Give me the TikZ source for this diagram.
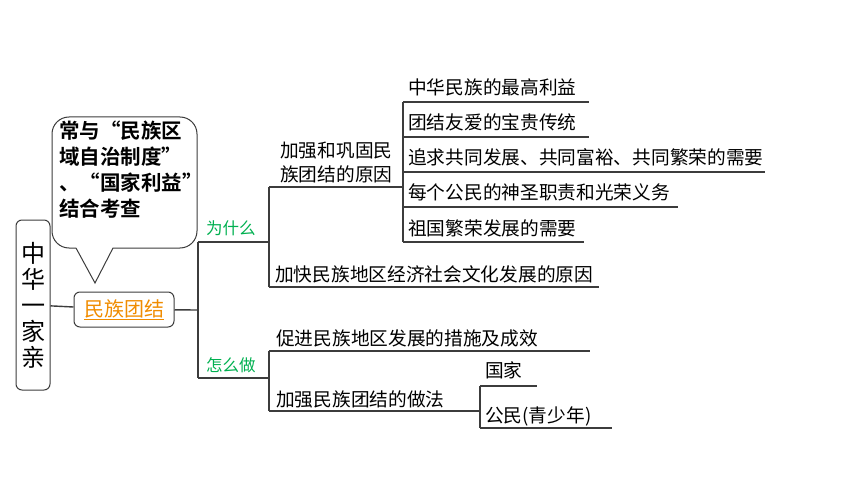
\documentclass[tikz,border=0pt]{standalone}
\usepackage{fontspec}
\setmainfont{Noto Sans CJK SC}[BoldFont=Noto Sans CJK SC Bold]
\newcommand{\quotebox}[2]{\makebox[1em][#1]{#2}}
\definecolor{mzOrange}{RGB}{240,140,0}
\definecolor{tagGreen}{RGB}{0,176,80}
\definecolor{lineGray}{RGB}{60,60,60}
\tikzset{
  leaf/.style={anchor=base west, inner sep=0pt, font=\fontsize{18.7}{24}\selectfont},
  tag/.style={anchor=west, inner sep=0pt, text=tagGreen, font=\fontsize{16.5}{20}\selectfont},
  branch/.style={draw=lineGray, line width=1.4pt}
}

\begin{document}
\begin{tikzpicture}[x=1pt,y=-1pt]
\useasboundingbox (0,0) rectangle (860,484);
%Заголовок и тема
\node[draw=lineGray, line width=1pt, rounded corners=6pt, minimum width=34pt, minimum height=170pt, inner sep=0pt, align=center, font=\fontsize{24}{26}\selectfont] (jia) at (33,305) {中\\华\\一\\家\\亲};
\node[draw=lineGray, line width=1pt, rounded corners=6pt, minimum width=100pt, minimum height=35pt, inner sep=0pt, text=mzOrange, font=\fontsize{20}{24}\selectfont] (mztj) at (124,309.5) {\underline{民族团结}};
\draw[branch] (jia) -- (mztj);
%Выноска
\draw[draw=lineGray, line width=1pt] (76,248) -- (95,283) -- (113,248) [rounded corners=17pt] -- (197,248) -- (197,117) -- (52,117) -- (52,248) -- (76,248);
\node[anchor=north west, inner sep=0pt, align=left, font=\fontsize{20.5}{26}\selectfont\bfseries] (bub) at (59,121) {常与\quotebox{r}{“}民族区\\域自治制度\quotebox{l}{”}\\、\quotebox{r}{“}国家利益\quotebox{l}{”}\\结合考查};
%Ветви
\coordinate (r0) at (198,310);
\coordinate (wA) at (198,242); \coordinate (wB) at (269,242);
\coordinate (hA) at (198,378); \coordinate (hB) at (269,378);
\draw[branch] (mztj) -- (r0);
\draw[branch] (wA) -- (hA) (wA) -- (wB) (hA) -- (hB);
\node[tag] (why) at (206,228) {为什么};
\node[tag] (how) at (206,365) {怎么做};
%为什么
\coordinate (y1) at (269,187); \coordinate (y1e) at (403,187);
\coordinate (y2) at (269,287); \coordinate (y2e) at (599,287);
\draw[branch] (y1) -- (y2) (y1) -- (y1e) (y2) -- (y2e);
\node[leaf, anchor=south west, align=left] (yuanyin) at (280,183) {加强和巩固民\\族团结的原因};
\node[leaf] (kuai) at (275,281) {加快民族地区经济社会文化发展的原因};
%原因
\coordinate (z0) at (403,102); \coordinate (z5) at (403,242);
\draw[branch] (z0) -- (z5);
\foreach \i/\y/\e/\t in {1/102/589/中华民族的最高利益, 2/137/589/团结友爱的宝贵传统, 3/172/765/追求共同发展、共同富裕、共同繁荣的需要, 4/207/678/每个公民的神圣职责和光荣义务, 5/242/584/祖国繁荣发展的需要}{
  \coordinate (a\i) at (403,\y);
  \coordinate (b\i) at (\e,\y);
  \draw[branch] (a\i) -- (b\i);
  \node[leaf] (t\i) at (408,\y-7) {\t};
}
%怎么做
\coordinate (x1) at (269,351); \coordinate (x1e) at (590,351);
\coordinate (x2) at (269,411); \coordinate (x2e) at (480,411);
\draw[branch] (x1) -- (x2) (x1) -- (x1e) (x2) -- (x2e);
\node[leaf] (cuoshi) at (276,345) {促进民族地区发展的措施及成效};
\node[leaf] (zuofa) at (276,406) {加强民族团结的做法};
\coordinate (v1) at (480,386); \coordinate (v1e) at (537,386);
\coordinate (v2) at (480,428); \coordinate (v2e) at (612,428);
\draw[branch] (v1) -- (v2) (v1) -- (v1e) (v2) -- (v2e);
\node[leaf] (guojia) at (485,377) {国家};
\node[leaf] (gongmin) at (485,422) {公民(青少年)};
\end{tikzpicture}
\end{document}
